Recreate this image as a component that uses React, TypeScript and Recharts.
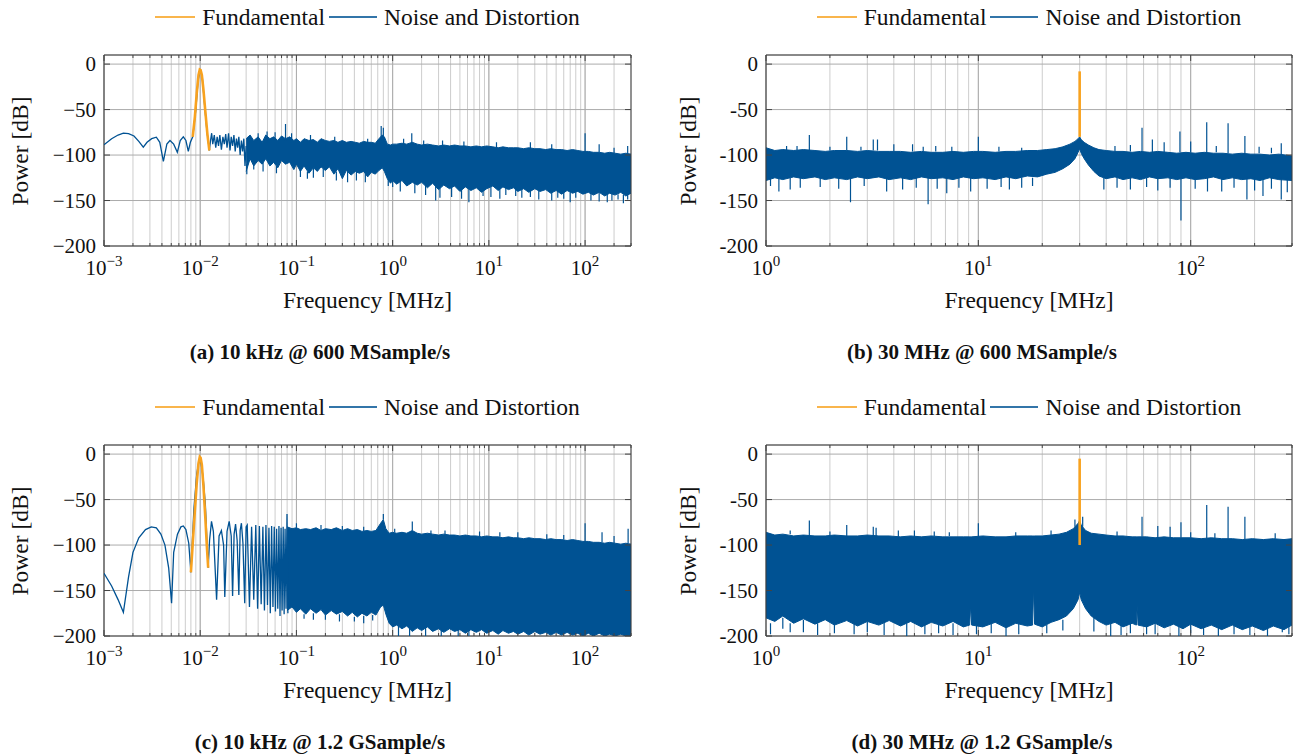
import React from "react"
import { Area, CartesianGrid, ComposedChart, Line, ReferenceArea, XAxis, YAxis } from "recharts"

const BLUE = "#005293"
const ORANGE = "#f8a21f"
const FONT = '"Liberation Serif", "DejaVu Serif", serif'

// axis ticks
const yTicks = [-200, -150, -100, -50, 0]
const decadesWide = [0.001, 0.01, 0.1, 1, 10, 100]
const expLabelsWide = ["−3", "−2", "−1", "0", "1", "2"]
const decadesNarrow = [1, 10, 100]
const expLabelsNarrow = ["0", "1", "2"]
const minorSteps = [2, 3, 4, 5, 6, 7, 8, 9]

// (a) 10 kHz @ 600 MSample/s -- smooth low-frequency part
const lobeFreqA = [0.001, 0.0012, 0.0014, 0.00159, 0.0018, 0.00205, 0.0023, 0.00256, 0.0028, 0.00313, 0.0035, 0.0038, 0.00414, 0.0045, 0.00485, 0.0053, 0.00578, 0.0062, 0.00667, 0.0071, 0.00752, 0.0079, 0.00836, 0.009, 0.0095, 0.01, 0.0105, 0.011, 0.0117, 0.01245, 0.0128, 0.01315, 0.0135, 0.014, 0.0145, 0.015, 0.0155, 0.016, 0.0166, 0.0172, 0.0178, 0.0184, 0.019, 0.0197, 0.0204, 0.021, 0.0217, 0.0224, 0.0231, 0.0238, 0.0245, 0.0252, 0.026, 0.0268, 0.0276, 0.0284, 0.0292, 0.03]
const lobePowA = [-88.8, -82, -78, -76, -76.5, -79, -85, -91.4, -86, -82, -80.4, -86, -107, -88, -84, -88, -97, -84, -80, -84, -96, -86, -80, -50, -18, -6, -14, -40, -72, -95, -84, -76, -88, -78, -92, -80, -90, -78, -94, -80, -88, -77, -92, -76, -95, -80, -90, -78, -96, -82, -92, -80, -100, -84, -96, -82, -112, -90]
const fundFreqA = [0.00836, 0.0088, 0.0092, 0.0096, 0.0099, 0.0101, 0.0104, 0.0108, 0.0113, 0.0119, 0.01245]
const fundPowA = [-80, -58, -32, -12, -6, -6.5, -12, -28, -52, -78, -95]
// [freq, upper edge, lower edge]
const bandA: [number, number, number][] = [
  [0.03, -82, -118], [0.033, -78, -104], [0.036, -84, -112], [0.04, -80, -106], [0.044, -86, -110], [0.048, -78, -104],
  [0.053, -82, -112], [0.058, -80, -108], [0.064, -84, -114], [0.07, -79, -106], [0.077, -82, -110], [0.085, -80, -108],
  [0.094, -84, -116], [0.1, -82, -110], [0.11, -86, -118], [0.12, -82, -112], [0.135, -84, -120], [0.15, -83, -114],
  [0.165, -86, -118], [0.18, -82, -113], [0.2, -84, -117], [0.22, -85, -113], [0.245, -84, -121], [0.27, -86, -115],
  [0.3, -84, -126], [0.33, -86, -117], [0.37, -85, -122], [0.41, -86, -118], [0.45, -87, -120], [0.5, -85, -118],
  [0.55, -86, -124], [0.6, -86, -119], [0.66, -87, -121], [0.72, -82, -117], [0.78, -78, -114], [0.82, -80, -118],
  [0.88, -88, -126], [0.95, -89, -131], [1, -88, -128], [1.1, -88, -132], [1.25, -87, -128], [1.4, -88, -134],
  [1.6, -86, -130], [1.8, -88, -133], [2, -89, -130], [2.3, -88, -136], [2.6, -89, -131], [3, -90, -138],
  [3.4, -89, -133], [3.9, -90, -137], [4.4, -89, -134], [5, -90, -140], [5.7, -90, -135], [6.5, -91, -139],
  [7.4, -90, -136], [8.4, -91, -141], [9.5, -90, -137], [11, -91, -134], [12.5, -92, -139], [14, -91, -135],
  [16, -92, -138], [18, -92, -136], [20, -92, -140], [23, -93, -137], [26, -92, -141], [30, -93, -137],
  [34, -93, -140], [39, -94, -138], [44, -93, -142], [50, -94, -139], [57, -94, -143], [65, -95, -139],
  [74, -94, -142], [84, -95, -140], [95, -96, -143], [108, -96, -141], [122, -97, -144], [140, -97, -141],
  [160, -98, -145], [180, -97, -142], [205, -98, -144], [235, -99, -141], [265, -98, -145], [300, -99, -142],
]
// [freq, from, to] single-bin spikes
const spikesA: [number, number, number][] = [
  [0.0495, -86, -74], [0.077, -84, -66], [0.089, -84, -76], [0.76, -84, -68], [0.8, -84, -70], [1.58, -88, -76],
  [3.3, -90, -84], [27, -93, -86], [100, -96, -76], [140, -97, -88], [277, -98, -90],
  [0.04, -84, -76], [0.06, -84, -75], [0.14, -85, -78], [0.25, -86, -80], [0.55, -87, -82], [1.3, -88, -82],
  [2.1, -89, -84], [5.5, -90, -85], [12, -92, -86], [45, -94, -88], [200, -98, -92],
  [0.0305, -110, -121], [0.15, -114, -125], [0.34, -117, -130], [1, -128, -135], [2.8, -131, -150], [3.1, -135, -147],
  [6.2, -135, -152], [8.7, -137, -145], [19, -136, -145], [27, -138, -146], [60, -140, -148], [140, -141, -151],
  [190, -142, -150], [277, -143, -149],
  [0.036, -110, -116], [0.045, -108, -118], [0.062, -112, -120], [0.11, -116, -124], [0.13, -118, -126],
  [0.19, -115, -124], [0.26, -118, -128], [0.42, -118, -128], [0.52, -120, -130], [0.9, -126, -134],
  [1.2, -128, -140], [1.7, -130, -142], [2.2, -132, -144], [4.1, -134, -146], [5.2, -136, -148], [10.5, -135, -146],
  [13, -136, -148], [15, -136, -144], [22, -138, -147], [33, -139, -149], [45, -140, -150], [52, -140, -147],
  [70, -141, -152], [80, -141, -147], [115, -142, -150], [170, -143, -152], [220, -143, -149], [250, -144, -153],
]

// (b) 30 MHz @ 600 MSample/s
const fundFreqB = [30, 30]
const fundPowB = [-80, -8]
const bandB: [number, number, number][] = [
  [1, -92, -128], [1.1, -95, -125], [1.2, -94, -127], [1.35, -95, -124], [1.5, -94, -126], [1.7, -95, -124],
  [1.9, -96, -127], [2.1, -95, -125], [2.4, -95, -127], [2.7, -96, -124], [3, -95, -126], [3.4, -96, -124],
  [3.8, -96, -127], [4.3, -96, -125], [4.8, -97, -127], [5.4, -96, -124], [6, -97, -126], [6.8, -97, -125],
  [7.6, -96, -127], [8.5, -97, -124], [9.5, -96, -126], [10.5, -96, -125], [12, -97, -127], [13.5, -96, -124],
  [15, -96, -126], [17, -95, -123], [19, -95, -124], [21, -94, -121], [23, -93, -119], [25, -91, -115],
  [27, -88, -110], [28.5, -85, -104], [29.5, -82, -97], [30, -80, -93], [30.5, -83, -98], [31.5, -86, -104],
  [33, -89, -111], [35, -92, -118], [37, -94, -123], [40, -95, -126], [44, -96, -124], [48, -96, -127],
  [53, -97, -125], [58, -96, -127], [64, -97, -124], [70, -96, -126], [78, -97, -125], [86, -98, -127],
  [95, -97, -125], [105, -98, -127], [116, -97, -126], [128, -98, -124], [142, -98, -127], [157, -99, -125],
  [174, -98, -127], [192, -99, -126], [212, -99, -128], [235, -100, -125], [260, -99, -127], [300, -101, -128],
]
const spikesB: [number, number, number][] = [
  [1.25, -95, -90], [1.6, -95, -78], [2.4, -95, -80], [3.2, -95, -83], [3.35, -95, -83], [4, -96, -88], [4.9, -96, -88],
  [10, -96, -80], [59, -96, -70], [66, -97, -83], [75, -97, -86], [89, -97, -74], [100, -97, -85], [119, -97, -64],
  [150, -98, -65], [180, -98, -79], [267, -99, -87],
  [1.4, -95, -90], [2, -95, -91], [2.8, -95, -91], [5.5, -96, -91], [6.3, -96, -90], [7.5, -96, -91],
  [12.5, -96, -91], [16, -96, -92], [44, -96, -90], [52, -96, -89], [132, -97, -90], [210, -98, -91], [240, -98, -92],
  [1.15, -125, -140], [1.3, -125, -138], [2.5, -125, -152], [3.7, -125, -140], [5.8, -125, -154], [7.1, -125, -142],
  [9.2, -125, -140], [14, -125, -138], [39, -125, -138], [90, -125, -172], [120, -125, -140], [184, -125, -149],
  [219, -125, -145], [267, -125, -149],
  [1.05, -125, -134], [1.45, -125, -136], [1.8, -125, -135], [2.2, -125, -137], [2.9, -125, -134], [4.4, -125, -138],
  [5.1, -125, -136], [6.4, -125, -137], [8.1, -125, -136], [11, -125, -137], [12.8, -125, -135], [16, -125, -136],
  [18, -125, -134], [45, -125, -136], [52, -125, -138], [62, -125, -135], [70, -125, -139], [80, -125, -136],
  [105, -125, -137], [140, -125, -140], [160, -125, -136], [200, -125, -139], [240, -125, -137], [285, -125, -141],
]

// (c) 10 kHz @ 1.2 GSample/s
const lobeFreqC = [0.001, 0.0012, 0.0014, 0.00159, 0.0018, 0.002, 0.0023, 0.0027, 0.0031, 0.0035, 0.0039, 0.0043, 0.0047, 0.00504, 0.0053, 0.0058, 0.0063, 0.00667, 0.0071, 0.0076, 0.008, 0.0086, 0.0092, 0.0097, 0.0102, 0.0107, 0.0113, 0.0121, 0.0125, 0.0131, 0.0137, 0.0148, 0.0157, 0.0166, 0.0175, 0.018, 0.019, 0.02, 0.021, 0.0217, 0.0225, 0.0233, 0.0242, 0.0252, 0.026, 0.0268, 0.0278, 0.029, 0.03, 0.0308, 0.0325, 0.0342, 0.036, 0.0378, 0.0395, 0.0412, 0.043, 0.0448, 0.0465, 0.0482, 0.05, 0.0518, 0.0535, 0.0552, 0.057, 0.0588, 0.0605, 0.0622, 0.064, 0.0658, 0.0675, 0.0692, 0.071, 0.0728, 0.0745, 0.0762, 0.078, 0.0798, 0.0815]
const lobePowC = [-131, -145, -160, -174, -135, -108, -92, -83, -80, -81, -88, -100, -125, -164, -108, -88, -80, -79, -83, -98, -130, -60, -22, -8, -10, -25, -55, -125, -95, -74, -85, -160, -90, -84, -100, -157, -85, -74, -90, -156, -88, -77, -95, -155, -84, -76, -98, -164, -80, -78, -168, -80, -160, -78, -170, -79, -165, -80, -172, -78, -166, -81, -175, -79, -168, -80, -173, -82, -170, -79, -178, -81, -172, -80, -176, -82, -170, -66, -175]
const fundFreqC = [0.008, 0.0084, 0.0088, 0.0092, 0.0096, 0.0099, 0.0101, 0.0104, 0.0108, 0.0113, 0.0117, 0.0121]
const fundPowC = [-130, -95, -62, -32, -10, -3, -4, -12, -35, -70, -100, -125]
const bandC: [number, number, number][] = [
  [0.08, -80, -172], [0.09, -82, -168], [0.1, -81, -174], [0.11, -83, -170], [0.125, -82, -176], [0.14, -83, -170],
  [0.16, -81, -175], [0.18, -84, -171], [0.2, -82, -177], [0.23, -83, -172], [0.26, -81, -176], [0.3, -84, -173],
  [0.34, -82, -178], [0.38, -84, -174], [0.43, -83, -179], [0.48, -85, -175], [0.54, -84, -178], [0.6, -85, -174],
  [0.67, -84, -177], [0.75, -76, -168], [0.8, -72, -166], [0.85, -82, -176], [0.92, -87, -186], [1, -86, -190],
  [1.1, -87, -188], [1.25, -86, -192], [1.4, -87, -189], [1.6, -84, -195], [1.8, -87, -191], [2, -88, -194],
  [2.3, -87, -190], [2.6, -88, -195], [3, -89, -192], [3.4, -88, -196], [3.9, -89, -192], [4.4, -89, -195],
  [5, -90, -193], [5.7, -89, -197], [6.5, -90, -193], [7.4, -90, -196], [8.4, -91, -193], [9.5, -90, -197],
  [11, -91, -194], [12.5, -91, -198], [14, -92, -194], [16, -91, -197], [18, -92, -195], [20, -92, -198],
  [23, -93, -195], [26, -92, -199], [30, -93, -195], [34, -93, -198], [39, -94, -196], [44, -93, -199],
  [50, -94, -196], [57, -94, -199], [65, -95, -196], [74, -94, -199], [84, -95, -197], [95, -96, -200],
  [108, -96, -197], [122, -97, -200], [140, -97, -197], [160, -98, -200], [180, -97, -198], [205, -98, -200],
  [235, -99, -198], [265, -98, -200], [300, -99, -200],
]
const spikesC: [number, number, number][] = [
  [0.8, -72, -66], [1.05, -86, -82], [1.6, -84, -74], [2.5, -88, -84], [8, -90, -85], [20, -92, -86],
  [40, -94, -88], [100, -96, -76], [150, -97, -86], [280, -98, -82],
  [0.1, -81, -76], [0.18, -84, -78], [0.3, -84, -79], [0.5, -85, -80], [3.5, -89, -84], [13, -91, -86],
  [60, -94, -89], [200, -98, -90],
  [0.12, -176, -181], [0.2, -177, -182], [0.4, -179, -184], [0.62, -177, -183],
  [0.15, -175, -182], [0.28, -176, -184], [0.5, -178, -186],
  [1.15, -188, -200], [1.5, -189, -200], [2.2, -190, -200], [3.2, -192, -200], [4.8, -193, -200], [6.2, -193, -200],
]

// (d) 30 MHz @ 1.2 GSample/s
const fundFreqD = [30, 30]
const fundPowD = [-100, -5]
const bandD: [number, number, number][] = [
  [1, -86, -180], [1.1, -89, -184], [1.2, -88, -178], [1.35, -90, -186], [1.5, -89, -181], [1.7, -90, -187],
  [1.9, -90, -182], [2.1, -89, -188], [2.4, -90, -183], [2.7, -90, -189], [3, -89, -184], [3.4, -90, -188],
  [3.8, -90, -183], [4.3, -91, -189], [4.8, -90, -184], [5.4, -91, -190], [6, -90, -185], [6.8, -91, -189],
  [7.6, -91, -184], [8.5, -91, -190], [9.1, -91, -188], [9.2, -91, -166], [9.3, -91, -188], [10.5, -90, -190],
  [12, -91, -185], [13.5, -91, -191], [15, -90, -186], [17, -90, -189], [18, -90, -188], [18.2, -90, -146],
  [18.4, -90, -187], [20, -90, -190], [22, -89, -185], [24, -88, -182], [26, -86, -178], [28, -82, -170],
  [29.5, -76, -160], [30, -73, -152], [30.5, -78, -160], [32, -84, -170], [34, -87, -178], [37, -88, -184],
  [40, -89, -188], [44, -90, -185], [48, -90, -190], [53, -91, -186], [55.5, -91, -188], [56, -91, -166],
  [56.5, -91, -188], [62, -91, -190], [68, -92, -186], [75, -91, -191], [83, -92, -187], [92, -92, -192],
  [100, -92, -187], [112, -93, -192], [125, -92, -188], [140, -93, -193], [157, -93, -188], [175, -94, -193],
  [195, -93, -189], [220, -94, -194], [245, -93, -189], [275, -94, -193], [300, -93, -188],
]
const spikesD: [number, number, number][] = [
  [1.6, -90, -73], [2.4, -90, -78], [3.2, -90, -80], [3.3, -90, -81], [4.2, -91, -84], [5, -91, -84], [10, -91, -76],
  [28.5, -80, -72], [31, -80, -69], [59, -91, -69], [70, -92, -79], [80, -92, -80], [90, -92, -75], [119, -93, -56],
  [150, -93, -58], [180, -94, -69],
  [1.3, -88, -84], [2, -89, -85], [6.2, -90, -85], [7.3, -90, -86], [15, -90, -86], [22, -89, -84], [45, -90, -85],
  [100, -92, -86], [130, -93, -87], [250, -93, -87],
  [1.05, -186, -198], [1.3, -186, -196], [1.75, -186, -199], [2.6, -186, -198], [4.6, -186, -200], [7.6, -186, -199],
  [9.8, -186, -198], [13.5, -188, -200], [15.5, -186, -198], [42, -186, -200], [62, -188, -198], [88, -188, -200],
  [115, -188, -199], [190, -188, -199], [270, -188, -196], [290, -188, -198],
  [1.2, -180, -192], [1.5, -182, -196], [2.1, -186, -197], [3, -184, -196], [3.6, -184, -199], [5.6, -188, -198],
  [6.5, -186, -197], [11.5, -186, -197], [21, -188, -197], [25, -182, -194], [35, -180, -195], [47, -188, -199],
  [52, -186, -197], [68, -186, -198], [100, -187, -197], [135, -190, -200], [160, -189, -198], [230, -190, -200],
]

type Pt = { f: number; p: number | null }

const zipPts = (fs: number[], ps: number[]): Pt[] =>
  fs.slice(0, Math.min(fs.length, ps.length)).map((f, i) => ({ f, p: ps[i] }))

const toBand = (rows: [number, number, number][]) => rows.map(([f, hi, lo]) => ({ f, r: [lo, hi] }))

const toSpikes = (rows: [number, number, number][]): Pt[] =>
  rows.flatMap(([f, a, b]) => [
    { f, p: a },
    { f, p: b },
    { f, p: null },
  ])

type PanelDef = {
  left: number
  top: number
  x0: number
  x1: number
  domain: [number, number]
  decades: number[]
  expLabels: string[]
  minus: string
  yLabelGap: number
  lobes: Pt[]
  band: { f: number; r: number[] }[]
  spikes: Pt[]
  fund: Pt[]
  caption: string
}

const W = 635
const H = 300
const M_TOP = 15
const M_BOTTOM = 64
const X_AXIS_H = 30
const Y_AXIS_W = 60

function Panel({ def }: { def: PanelDef }) {
  const plotLeft = def.x0 - def.left
  const plotRight = def.x1 - def.left
  const plotTop = M_TOP
  const plotBottom = H - M_BOTTOM - X_AXIS_H
  const xTicks = def.decades
    .flatMap((d) => [d, ...minorSteps.map((m) => d * m)])
    .filter((v) => v >= def.domain[0] && v <= def.domain[1])

  const renderXTick = (props: any) => {
    const { x, payload } = props
    const idx = def.decades.indexOf(payload.value)
    const len = idx >= 0 ? 6 : 3
    return (
      <g>
        <line x1={x} x2={x} y1={plotBottom} y2={plotBottom - len} stroke="#444" />
        <line x1={x} x2={x} y1={plotTop} y2={plotTop + len} stroke="#444" />
        {idx >= 0 && (
          <text x={x} y={plotBottom + 29} textAnchor="middle" fontSize={21} fontFamily={FONT} fill="#111">
            10
            <tspan dy={-9} fontSize={15}>
              {def.expLabels[idx]}
            </tspan>
          </text>
        )}
      </g>
    )
  }

  const renderYTick = (props: any) => {
    const { y, payload } = props
    const v = payload.value as number
    const label = v < 0 ? def.minus + String(-v) : String(v)
    return (
      <g>
        <line x1={plotLeft} x2={plotLeft + 6} y1={y} y2={y} stroke="#444" />
        <line x1={plotRight - 6} x2={plotRight} y1={y} y2={y} stroke="#444" />
        <text x={plotLeft - 8} y={y} dy="0.34em" textAnchor="end" fontSize={21} fontFamily={FONT} fill="#111">
          {label}
        </text>
      </g>
    )
  }

  const cx = (def.x0 + def.x1) / 2
  const pageTop = def.top + plotTop
  const pageBottom = def.top + plotBottom
  const text = { fontFamily: FONT, color: "#111" }

  return (
    <>
      <div style={{ position: "absolute", left: def.left, top: def.top }}>
        <ComposedChart
          width={W}
          height={H}
          margin={{ top: M_TOP, left: plotLeft - Y_AXIS_W, right: W - plotRight, bottom: M_BOTTOM }}
        >
          <CartesianGrid horizontal={false} stroke="#cdcdcd" />
          <CartesianGrid verticalValues={def.decades} stroke="#ababab" />
          <XAxis
            type="number"
            dataKey="f"
            scale="log"
            domain={def.domain}
            allowDataOverflow
            ticks={xTicks}
            interval={0}
            height={X_AXIS_H}
            tickLine={false}
            axisLine={false}
            tick={renderXTick}
          />
          <YAxis
            type="number"
            domain={[-200, 10]}
            allowDataOverflow
            ticks={yTicks}
            interval={0}
            width={Y_AXIS_W}
            tickLine={false}
            axisLine={false}
            tick={renderYTick}
          />
          <Area
            data={def.band}
            dataKey="r"
            type="linear"
            stroke={BLUE}
            strokeWidth={1}
            fill={BLUE}
            fillOpacity={1}
            dot={false}
            activeDot={false}
            isAnimationActive={false}
          />
          {def.lobes.length > 0 && (
            <Line
              data={def.lobes}
              dataKey="p"
              type="linear"
              stroke={BLUE}
              strokeWidth={1.3}
              dot={false}
              activeDot={false}
              isAnimationActive={false}
            />
          )}
          <Line
            data={def.spikes}
            dataKey="p"
            type="linear"
            stroke={BLUE}
            strokeWidth={1.2}
            dot={false}
            activeDot={false}
            connectNulls={false}
            isAnimationActive={false}
          />
          <Line
            data={def.fund}
            dataKey="p"
            type="linear"
            stroke={ORANGE}
            strokeWidth={2.6}
            dot={false}
            activeDot={false}
            isAnimationActive={false}
          />
          <ReferenceArea
            x1={def.domain[0]}
            x2={def.domain[1]}
            y1={-200}
            y2={10}
            fill="none"
            stroke="#3c3c3c"
            strokeWidth={1}
            ifOverflow="visible"
          />
        </ComposedChart>
      </div>

      {/* legend */}
      <div
        style={{
          ...text,
          position: "absolute",
          left: cx - 300,
          width: 600,
          top: pageTop - 38 - 14,
          height: 28,
          display: "flex",
          justifyContent: "center",
          alignItems: "center",
          fontSize: 23.5,
          whiteSpace: "nowrap",
        }}
      >
        <span style={{ display: "inline-block", width: 40, height: 1.6, background: ORANGE, opacity: 0.8, marginRight: 7 }} />
        <span>Fundamental</span>
        <span
          style={{ display: "inline-block", width: 48, height: 1.6, background: BLUE, opacity: 0.8, margin: "0 7px 0 4px" }}
        />
        <span>Noise and Distortion</span>
      </div>

      {/* y label */}
      <div
        style={{
          ...text,
          position: "absolute",
          left: def.x0 - def.yLabelGap - 100,
          top: (pageTop + pageBottom) / 2 - 14,
          width: 200,
          height: 28,
          lineHeight: "28px",
          textAlign: "center",
          transform: "rotate(-90deg)",
          fontSize: 23.5,
        }}
      >
        Power [dB]
      </div>

      {/* x label */}
      <div
        style={{
          ...text,
          position: "absolute",
          left: cx - 150,
          top: pageBottom + 54 - 14,
          width: 300,
          height: 28,
          lineHeight: "28px",
          textAlign: "center",
          fontSize: 23.5,
        }}
      >
        Frequency [MHz]
      </div>

      {/* caption */}
      <div
        style={{
          ...text,
          position: "absolute",
          left: def.x0 + 216 - 200,
          top: pageBottom + 106 - 14,
          width: 400,
          height: 28,
          lineHeight: "28px",
          textAlign: "center",
          fontSize: 21,
          fontWeight: "bold",
        }}
      >
        {def.caption}
      </div>
    </>
  )
}

const panels: PanelDef[] = [
  {
    left: 0,
    top: 40,
    x0: 104,
    x1: 631,
    domain: [0.001, 300],
    decades: decadesWide,
    expLabels: expLabelsWide,
    minus: "−",
    yLabelGap: 84,
    lobes: zipPts(lobeFreqA, lobePowA),
    band: toBand(bandA),
    spikes: toSpikes(spikesA),
    fund: zipPts(fundFreqA, fundPowA),
    caption: "(a) 10 kHz @ 600 MSample/s",
  },
  {
    left: 662,
    top: 40,
    x0: 766,
    x1: 1292,
    domain: [1, 300],
    decades: decadesNarrow,
    expLabels: expLabelsNarrow,
    minus: "-",
    yLabelGap: 78,
    lobes: [],
    band: toBand(bandB),
    spikes: toSpikes(spikesB),
    fund: zipPts(fundFreqB, fundPowB),
    caption: "(b) 30 MHz @ 600 MSample/s",
  },
  {
    left: 0,
    top: 430,
    x0: 104,
    x1: 631,
    domain: [0.001, 300],
    decades: decadesWide,
    expLabels: expLabelsWide,
    minus: "−",
    yLabelGap: 84,
    lobes: zipPts(lobeFreqC, lobePowC),
    band: toBand(bandC),
    spikes: toSpikes(spikesC),
    fund: zipPts(fundFreqC, fundPowC),
    caption: "(c) 10 kHz @ 1.2 GSample/s",
  },
  {
    left: 662,
    top: 430,
    x0: 766,
    x1: 1292,
    domain: [1, 300],
    decades: decadesNarrow,
    expLabels: expLabelsNarrow,
    minus: "-",
    yLabelGap: 78,
    lobes: [],
    band: toBand(bandD),
    spikes: toSpikes(spikesD),
    fund: zipPts(fundFreqD, fundPowD),
    caption: "(d) 30 MHz @ 1.2 GSample/s",
  },
]

export default function App() {
  return (
    <div
      style={{
        position: "absolute",
        left: 0,
        top: 0,
        width: 1297,
        height: 754,
        overflow: "hidden",
        background: "#fff",
      }}
    >
      {panels.map((p) => (
        <Panel key={p.caption} def={p} />
      ))}
    </div>
  )
}
